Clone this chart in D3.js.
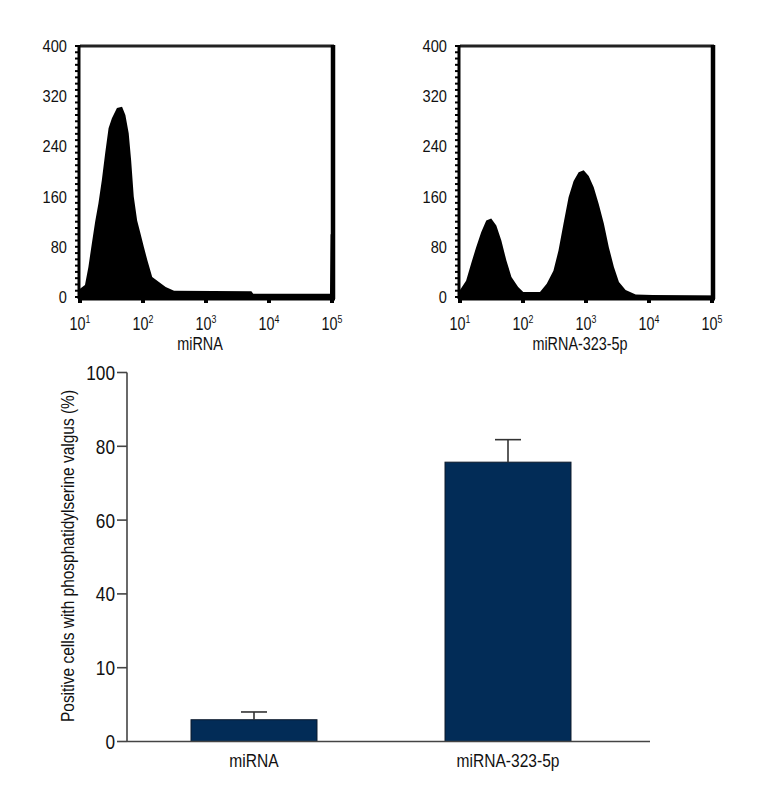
<!DOCTYPE html>
<html><head><meta charset="utf-8">
<script src="https://cdn.jsdelivr.net/npm/d3@7"></script>
<style>
body{margin:0;background:#fff;}
text{font-family:"Liberation Sans",Arial,sans-serif;fill:#111;}
</style></head>
<body><svg id="c" width="760" height="800"></svg>
<script>
// ---- Data ----
// Flow histogram, control miRNA: fluorescence intensity and cell count
const ctrlIntensity = [10, 12, 13.6, 15.4, 17.4, 19.6, 22.2, 25.1, 28.4, 32.1, 38.6, 46.5, 52.5, 59.3, 64.8, 71.3, 80.7, 91.2, 103, 117, 140, 179, 229, 311, 5250, 5620, 92900, 95000, 100000];
const ctrlCount     = [13, 19, 48, 85, 120, 149, 186, 229, 269, 285, 301, 303, 290, 261, 218, 160, 122, 101, 80, 59, 32, 24, 16, 10, 9, 5, 5, 100, 100];
// Flow histogram, miRNA-323-5p
const mirIntensity = [10, 12.5, 15, 18, 21.7, 26.1, 31.3, 37.7, 45.3, 54.5, 65.5, 83.8, 101, 186, 238, 304, 366, 440, 529, 636, 764, 918, 1104, 1327, 1596, 1919, 2307, 2773, 3334, 4253, 6150, 11380, 100000];
const mirCount     = [11, 26, 53, 79, 103, 122, 125, 114, 90, 58, 32, 16, 8, 8, 21, 42, 74, 117, 159, 185, 199, 202, 193, 175, 148, 117, 79, 48, 24, 11, 4, 3, 2];
const histYTicks = [0, 80, 160, 240, 320, 400];
const histXTicks = [10, 100, 1000, 10000, 100000];
const histXExp   = ["1", "2", "3", "4", "5"];
const histTitles = ["miRNA", "miRNA-323-5p"];

// Bar chart
const groups   = ["miRNA", "miRNA-323-5p"];
const percent  = [5.9, 75.7];
const errUpper = [8.0, 81.8];
const barYTicks      = [0, 20, 40, 60, 80, 100];
const barYTickLabels = ["0", "10", "40", "60", "80", "100"];
const barYTitle = "Positive cells with phosphatidylserine valgus (%)";

// ---- Drawing ----
const svg = d3.select("#c");
const SX = 0.82; // condensed look

function label(g, x, y, str, size, anchor, sx, rot) {
  const t = g.append("text")
    .attr("transform", `translate(${x},${y})` + (rot ? ` rotate(${rot})` : "") + ` scale(${sx},1)`)
    .attr("text-anchor", anchor).attr("font-size", size);
  if (str !== null) t.text(str);
  return t;
}

function histogram(left, right, top, bottom, xs, ys, title) {
  const g = svg.append("g");
  const x = d3.scaleLog().domain([10, 100000]).range([left, right]);
  const y = d3.scaleLinear().domain([0, 400]).range([bottom, top]);
  const data = xs.map((v, i) => [v, ys[i]]);
  const area = d3.area().x(d => x(d[0])).y0(y(0)).y1(d => y(d[1])).curve(d3.curveLinear);
  g.append("path").attr("d", area(data)).attr("fill", "#000");
  // frame
  g.append("line").attr("x1", left).attr("x2", right + 2).attr("y1", top).attr("y2", top).attr("stroke", "#222").attr("stroke-width", 3);
  g.append("line").attr("x1", right + 1).attr("x2", right + 1).attr("y1", top - 1).attr("y2", bottom + 2).attr("stroke", "#000").attr("stroke-width", 4.5);
  g.append("line").attr("x1", left - 1).attr("x2", right + 3).attr("y1", bottom + 1).attr("y2", bottom + 1).attr("stroke", "#000").attr("stroke-width", 5);
  g.append("line").attr("x1", left - 1).attr("x2", left - 1).attr("y1", top - 1).attr("y2", bottom + 2).attr("stroke", "#000").attr("stroke-width", 3);
  // minor ticks on y axis
  g.selectAll(".mt").data(d3.range(0, 401, 10)).join("line")
    .attr("x1", left - 5).attr("x2", left).attr("y1", d => y(d)).attr("y2", d => y(d))
    .attr("stroke", "#000").attr("stroke-width", 2);
  // y labels
  histYTicks.forEach(d => label(g, left - 13, y(d) + 6, String(d), 17, "end", 0.86));
  // x decade nubs
  g.selectAll(".xt").data(histXTicks).join("line")
    .attr("x1", d => x(d)).attr("x2", d => x(d)).attr("y1", bottom).attr("y2", bottom + 6)
    .attr("stroke", "#000").attr("stroke-width", 4);
  // x labels
  histXTicks.forEach((d, i) => {
    const t = label(g, x(d), 330, null, 18, "middle", 0.8);
    t.append("tspan").text("10");
    t.append("tspan").attr("dy", -7).attr("font-size", 11).text(histXExp[i]);
  });
  label(g, (left + right) / 2 - 6, 350, title, 18, "middle", 0.8);
}

histogram(80, 332, 46, 297, ctrlIntensity, ctrlCount, histTitles[0]);
histogram(460, 712, 46, 297, mirIntensity, mirCount, histTitles[1]);

// bar chart
const bx = d3.scaleBand().domain(groups).range([127, 635]).paddingInner(0.504).paddingOuter(0.252);
const by = d3.scaleLinear().domain([0, 100]).range([741.5, 372.5]);
const bg = svg.append("g");
bg.selectAll(".bar").data(groups).join("rect")
  .attr("x", d => bx(d)).attr("width", bx.bandwidth())
  .attr("y", (d, i) => by(percent[i])).attr("height", (d, i) => by(0) - by(percent[i]))
  .attr("fill", "#022c57").attr("stroke", "#0c1a2c").attr("stroke-width", 1);
// error bars
bg.selectAll(".ev").data(groups).join("line")
  .attr("x1", d => bx(d) + bx.bandwidth() / 2).attr("x2", d => bx(d) + bx.bandwidth() / 2)
  .attr("y1", (d, i) => by(percent[i])).attr("y2", (d, i) => by(errUpper[i]))
  .attr("stroke", "#333").attr("stroke-width", 1.6);
bg.selectAll(".ec").data(groups).join("line")
  .attr("x1", d => bx(d) + bx.bandwidth() / 2 - 13).attr("x2", d => bx(d) + bx.bandwidth() / 2 + 13)
  .attr("y1", (d, i) => by(errUpper[i])).attr("y2", (d, i) => by(errUpper[i]))
  .attr("stroke", "#333").attr("stroke-width", 1.6);
// axes
bg.append("line").attr("x1", 127).attr("x2", 650).attr("y1", by(0)).attr("y2", by(0)).attr("stroke", "#444").attr("stroke-width", 1.6);
bg.append("line").attr("x1", 127).attr("x2", 127).attr("y1", by(0)).attr("y2", by(100)).attr("stroke", "#444").attr("stroke-width", 1.6);
bg.selectAll(".byt").data(barYTicks).join("line")
  .attr("x1", 117).attr("x2", 127).attr("y1", d => by(d)).attr("y2", d => by(d))
  .attr("stroke", "#444").attr("stroke-width", 1.6);
barYTicks.forEach((d, i) => label(bg, 115, by(d) + 7.5, barYTickLabels[i], 21, "end", SX));
groups.forEach(d => label(bg, bx(d) + bx.bandwidth() / 2, 767, d, 19, "middle", SX));
label(bg, 74, 556, barYTitle, 17.5, "middle", 0.885, -90);
</script></body></html>
